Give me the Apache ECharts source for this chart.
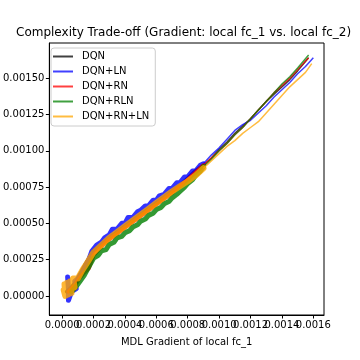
<!DOCTYPE html>
<html><head><meta charset="utf-8">
<script src="https://cdn.jsdelivr.net/npm/echarts@6/dist/echarts.min.js"></script>
<style>html,body{margin:0;padding:0;background:#fff}#c{width:360px;height:360px}</style>
</head><body><div id="c"></div>
<script>
var seriesNames = ['DQN','DQN+LN','DQN+RN','DQN+RLN','DQN+RN+LN'];
var xTicks = [0.0000,0.0002,0.0004,0.0006,0.0008,0.0010,0.0012,0.0014,0.0016];
var yTicks = [0.00000,0.00025,0.00050,0.00075,0.00100,0.00125,0.00150];

// dense, noisy early part of each run (drawn as a thick band)
var dqnLow = [[0.00003,0.00003],[0.00006,0.00006],[0.00009,0.0001],[0.00012,0.00016],[0.00015,0.00022],[0.0002,0.00031],[0.00025,0.000355],[0.0003,0.0004],[0.00035,0.00044],[0.0004,0.00048],[0.00045,0.00052],[0.0005,0.00056],[0.00055,0.0006],[0.0006,0.00064],[0.00065,0.00068],[0.0007,0.00072],[0.00075,0.00076],[0.0008,0.00081],[0.00085,0.00086],[0.0009,0.0009]];
var dqnLnLow = [[0.000035,0.00013],[0.00004,0.00005],[0.00004,-0.00003],[0.00006,0.00003],[0.00009,0.00005],[0.00008,0.0001],[0.0001,0.00012],[0.00013,0.00017],[0.00017,0.00025],[0.00019,0.00031],[0.0002,0.00031],[0.00022,0.00035],[0.00025,0.00037],[0.00027,0.0004],[0.0003,0.00042],[0.00032,0.00046],[0.00035,0.00046],[0.00038,0.0005],[0.0004,0.0005],[0.00042,0.00054],[0.00045,0.00054],[0.00048,0.00058],[0.0005,0.00059],[0.00053,0.00062],[0.00055,0.00062],[0.00058,0.00066],[0.0006,0.00066],[0.00062,0.00069],[0.00065,0.0007],[0.00068,0.00074],[0.0007,0.00074],[0.00073,0.00078],[0.00075,0.00078],[0.00078,0.00082],[0.0008,0.00082],[0.00083,0.00086],[0.00085,0.00086],[0.00088,0.0009],[0.0009,0.00091]];
var dqnRnLow = [[0.00004,0.00003],[0.00008,0.00007],[0.00011,0.00012],[0.00014,0.00016],[0.00017,0.00019],[0.0002,0.00028],[0.00025,0.00034],[0.0003,0.00039],[0.00035,0.00043],[0.0004,0.00047],[0.00045,0.00051],[0.0005,0.00055],[0.00055,0.00059],[0.0006,0.00063],[0.00065,0.00067],[0.0007,0.00071],[0.00075,0.000755],[0.0008,0.0008],[0.00085,0.00085],[0.0009,0.0009]];
var dqnRlnLow = [[0.00006,0.00003],[0.0001,0.00008],[0.00014,0.00014],[0.00017,0.0002],[0.0002,0.00026],[0.00023,0.00028],[0.00025,0.00031],[0.00028,0.00032],[0.0003,0.000355],[0.00033,0.00037],[0.00035,0.0004],[0.00038,0.00041],[0.0004,0.000435],[0.00043,0.00045],[0.00045,0.000475],[0.00048,0.00049],[0.0005,0.000515],[0.00053,0.00053],[0.00055,0.000555],[0.00058,0.00057],[0.0006,0.000595],[0.00063,0.00061],[0.00065,0.000635],[0.00068,0.00065],[0.0007,0.000675],[0.00073,0.0007],[0.00075,0.00072],[0.00078,0.00075],[0.0008,0.000775],[0.00083,0.0008],[0.00085,0.00083],[0.00088,0.00086],[0.0009,0.00089]];
var dqnRnLnLow = [[0.00001,0.00004],[0.00002,0.0],[0.000015,0.00008],[0.00004,0.00001],[0.00003,0.00009],[0.00006,0.00002],[0.00005,0.0001],[0.00008,0.00006],[0.00007,0.00012],[0.0001,0.00012],[0.00013,0.00018],[0.00016,0.00023],[0.0002,0.0003],[0.00025,0.00035],[0.0003,0.0004],[0.00035,0.00044],[0.0004,0.00048],[0.00045,0.00052],[0.0005,0.00056],[0.00055,0.0006],[0.0006,0.00064],[0.00065,0.00068],[0.0007,0.00072],[0.00075,0.000755],[0.0008,0.00079],[0.00085,0.00083],[0.0009,0.00088]];

// later, smoother part of each run
var dqnHigh = [[0.0009,0.0009],[0.00095,0.00095],[0.001,0.00101],[0.00105,0.00106],[0.0011,0.00112],[0.00115,0.00117],[0.0012,0.00122],[0.00125,0.00128],[0.0013,0.00134],[0.00135,0.00139],[0.0014,0.00144],[0.00145,0.00149],[0.0015,0.00155],[0.00157,0.00164]];
var dqnLnHigh = [[0.0009,0.00091],[0.00095,0.00097],[0.001,0.00102],[0.00105,0.00108],[0.0011,0.00114],[0.00115,0.00118],[0.0012,0.00121],[0.00125,0.00126],[0.0013,0.00131],[0.00135,0.00137],[0.0014,0.00142],[0.00145,0.00147],[0.0015,0.00153],[0.00155,0.00158],[0.0016,0.00164]];
var dqnRnHigh = [[0.0009,0.0009],[0.00095,0.00095],[0.001,0.001],[0.00105,0.00105],[0.0011,0.00111],[0.00115,0.00116],[0.0012,0.00122],[0.00125,0.00128],[0.0013,0.00134],[0.00135,0.0014],[0.0014,0.00145],[0.00145,0.0015],[0.0015,0.00156],[0.00157,0.00164]];
var dqnRlnHigh = [[0.0009,0.00089],[0.00095,0.00094],[0.001,0.001],[0.00105,0.00105],[0.0011,0.00111],[0.00115,0.00116],[0.0012,0.00122],[0.00125,0.00128],[0.0013,0.00134],[0.00135,0.0014],[0.0014,0.00146],[0.00145,0.00151],[0.0015,0.00157],[0.00157,0.00166]];
var dqnRnLnHigh = [[0.0009,0.00088],[0.00095,0.00093],[0.001,0.00098],[0.00105,0.00103],[0.0011,0.00107],[0.00115,0.00112],[0.0012,0.00116],[0.00125,0.0012],[0.0013,0.00126],[0.00135,0.00132],[0.0014,0.00138],[0.00145,0.00144],[0.0015,0.00149],[0.00155,0.00154],[0.00159,0.0016]];

var lowData = [dqnLow, dqnLnLow, dqnRnLow, dqnRlnLow, dqnRnLnLow];
var highData = [dqnHigh, dqnLnHigh, dqnRnHigh, dqnRlnHigh, dqnRnLnHigh];
var colors = ['#000000','#0000ff','#ff0000','#008000','#ffa500'];
var lowWidths = [4, 5, 4, 5, 6];
var FONT = 'DejaVu Sans';

var series = [];
seriesNames.forEach(function(n, i){
  series.push({
    name: n, type: 'line', data: lowData[i], symbol: 'none', color: colors[i],
    lineStyle: {color: colors[i], width: lowWidths[i], opacity: 0.8, join: 'round', cap: 'round'},
    itemStyle: {color: colors[i], opacity: 0.75}, z: 2 + i * 2
  });
  series.push({
    name: n, type: 'line', data: highData[i], symbol: 'none', color: colors[i],
    lineStyle: {color: colors[i], width: 1.5, opacity: 0.75},
    itemStyle: {color: colors[i], opacity: 0.75}, z: 3 + i * 2
  });
});

var xMin = -0.0000815, xMax = 0.001668;
var xTicksEven = xTicks.filter(function(v, i){ return i % 2 === 0; });
var xTicksOdd = xTicks.filter(function(v, i){ return i % 2 === 1; });
function xAxisCfg(labels, main) {
  return {
    type: 'value', min: xMin, max: xMax, position: 'bottom',
    name: main ? 'MDL Gradient of local fc_1' : '', nameLocation: 'middle', nameGap: 22,
    nameTextStyle: {fontFamily: FONT, fontSize: 10, color: '#000'},
    axisLine: {show: main, onZero: false, lineStyle: {color: '#000', width: 1}},
    axisTick: {show: main, inside: false, length: 3.5, customValues: xTicks, lineStyle: {color: '#000'}},
    axisLabel: {customValues: labels, hideOverlap: false, showMinLabel: true, showMaxLabel: true,
      fontFamily: FONT, fontSize: 10, color: '#000', margin: 5,
      formatter: function(v){ return v.toFixed(4); }},
    splitLine: {show: false}
  };
}

var chart = echarts.init(document.getElementById('c'), null, {renderer:'canvas'});
chart.setOption({
  animation: false,
  backgroundColor: '#fff',
  title: {
    text: 'Complexity Trade-off (Gradient: local fc_1 vs. local fc_2)',
    left: 16, top: 27, padding: 0,
    textStyle: {fontFamily: FONT, fontSize: 12, fontWeight: 'normal', color: '#000'}
  },
  legend: {
    orient: 'vertical', left: 51, top: 48,
    data: seriesNames,
    icon: 'rect', itemWidth: 20, itemHeight: 2, itemGap: 2,
    padding: [2, 6, 3, 2],
    backgroundColor: 'rgba(255,255,255,0.8)', borderColor: '#cccccc', borderWidth: 1, borderRadius: 3,
    textStyle: {fontFamily: FONT, fontSize: 10, color: '#000', lineHeight: 13, padding: [0,0,0,4]}
  },
  grid: {left: 45, right: 36, top: 43, bottom: 45, show: true, borderColor: '#000', borderWidth: 1, containLabel: false},
  xAxis: [xAxisCfg(xTicksEven, true), xAxisCfg(xTicksOdd, false)],
  yAxis: {
    type: 'value', min: -0.000131, max: 0.001742,
    axisLine: {show: true, onZero: false, lineStyle: {color: '#000', width: 1}},
    axisTick: {show: true, inside: false, length: 3.5, customValues: yTicks, lineStyle: {color: '#000'}},
    axisLabel: {customValues: yTicks, hideOverlap: false, showMinLabel: true, showMaxLabel: true,
      fontFamily: FONT, fontSize: 10, color: '#000', margin: 5,
      formatter: function(v){ return v.toFixed(5); }},
    splitLine: {show: false}
  },
  series: series
});
</script></body></html>
